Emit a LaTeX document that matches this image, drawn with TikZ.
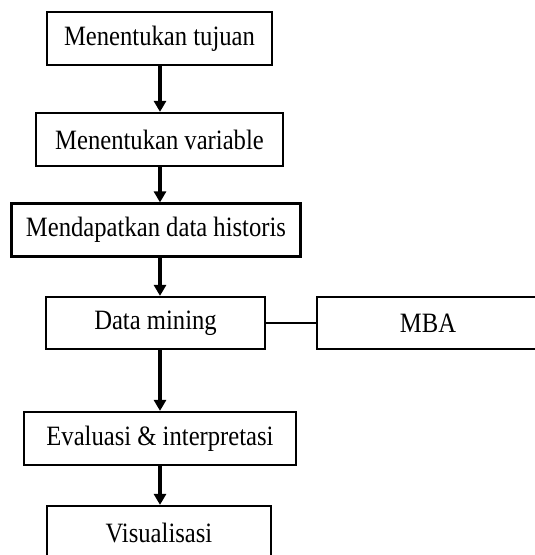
\documentclass[tikz,border=0pt]{standalone}
\usepackage{fontspec}
\setmainfont[FakeStretch=0.88]{Liberation Serif}
\usetikzlibrary{arrows.meta}
\begin{document}
\begin{tikzpicture}[x=1pt,y=-1pt,
  box/.style={draw=black,line width=2.2pt,minimum height=53pt,inner sep=0pt,font=\fontsize{28}{31}\selectfont},
  arr/.style={line width=3.5pt,-{Triangle[width=12pt,length=11pt]}},
  link/.style={line width=2.2pt}]
\useasboundingbox (0,0) rectangle (535,555);
\clip (0,0) rectangle (535,555);
\coordinate (ax) at (160,0);
\node[box,minimum width=225pt] (b1) at (159.5,38.5) {Menentukan tujuan};
\node[box,minimum width=247pt] (b2) at (159.5,139.5) {Menentukan variable};
\node[box,minimum width=289pt] (b3) at (156,230) {Mendapatkan data historis};
\node[box,minimum width=219pt,minimum height=52pt] (b4) at (155.5,323) {Data mining};
\node[box,minimum width=222pt,minimum height=52pt] (mba) at (428,323) {MBA};
\node[box,minimum width=272pt] (b5) at (160,438.5) {Evaluasi \& interpretasi};
\node[box,minimum width=224pt] (b6) at (159,532.5) {Visualisasi};
\draw[arr] (b1.south -| ax) -- (b2.north -| ax);
\draw[arr] (b2.south -| ax) -- (b3.north -| ax);
\draw[arr] (b3.south -| ax) -- (b4.north -| ax);
\draw[arr] (b4.south -| ax) -- (b5.north -| ax);
\draw[arr] (b5.south -| ax) -- (b6.north -| ax);
\draw[link] (b4.east) -- (mba.west);
\end{tikzpicture}
\end{document}
